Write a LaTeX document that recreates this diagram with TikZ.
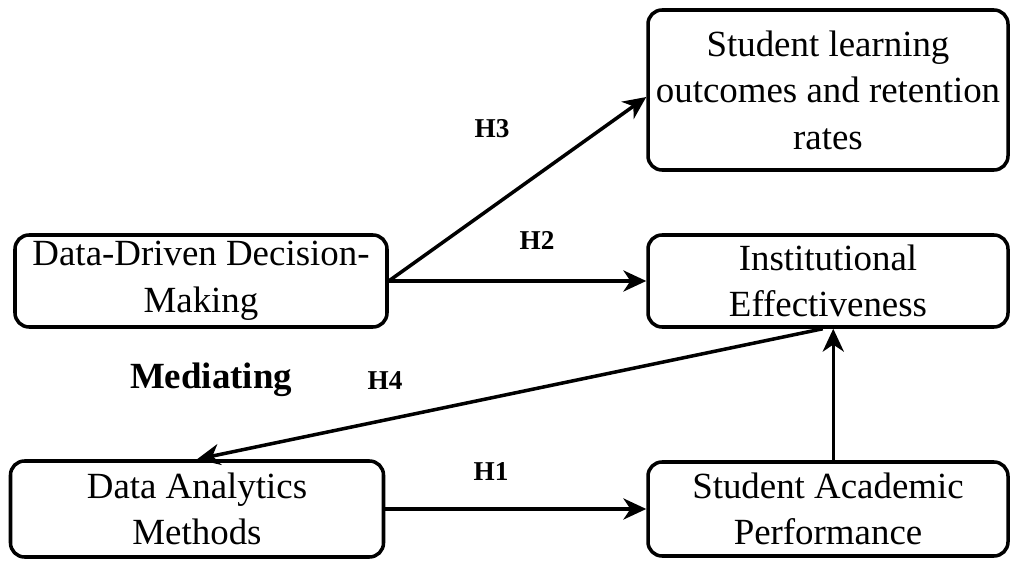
\documentclass[tikz,border=0pt]{standalone}
\usepackage{fontspec}
\setmainfont{Liberation Serif}
\usetikzlibrary{arrows.meta}
\tikzset{
	box/.style={draw, line width=2pt, rounded corners=8pt, align=center, inner sep=0pt, font=\fontsize{21}{26.5}\selectfont},
	hyp/.style={font=\fontsize{15.5}{18}\selectfont\bfseries},
	link/.style={line width=2pt, -{Stealth[length=13pt, width=12pt, inset=4pt]}}
}

\begin{document}
\begin{tikzpicture}[x=0.02cm, y=-0.02cm]
			%%%%% START %%%%%
			\useasboundingbox (0, 0) rectangle (1011, 563);
			
			\node[box, minimum width=372*0.02cm, minimum height=92*0.02cm] (dddm) at (201, 281) {Data-Driven Decision-\\Making};
			\node[box, minimum width=360*0.02cm, minimum height=160*0.02cm] (slo) at (828, 90) {Student learning\\outcomes and retention\\rates};
			\node[box, minimum width=360*0.02cm, minimum height=92*0.02cm] (ie) at (828, 281) {Institutional\\Effectiveness};
			\node[box, minimum width=373*0.02cm, minimum height=96*0.02cm] (dam) at (197, 509) {Data Analytics\\Methods};
			\node[box, minimum width=360*0.02cm, minimum height=94*0.02cm] (sap) at (828, 509) {Student Academic\\Performance};
			
			\draw[link] (dddm.east) -- ([yshift=-4pt]slo.west);
			\draw[link] (dddm.east) -- (ie.west);
			\draw[link] ([xshift=-3pt]ie.south) -- (dam.north);
			\draw[link] (dam.east) -- (sap.west);
			\draw[link] ([xshift=3pt]sap.north) -- ([xshift=3pt]ie.south);
			
			\node[hyp] (h3) at (492, 129) {H3};
			\node[hyp] (h2) at (537, 240) {H2};
			\node[hyp] (h4) at (385, 381) {H4};
			\node[hyp] (h1) at (491, 472) {H1};
			\node[font=\fontsize{21}{26}\selectfont\bfseries] (med) at (211, 380) {Mediating};
			%%%%% END %%%%%
\end{tikzpicture}
\end{document}
